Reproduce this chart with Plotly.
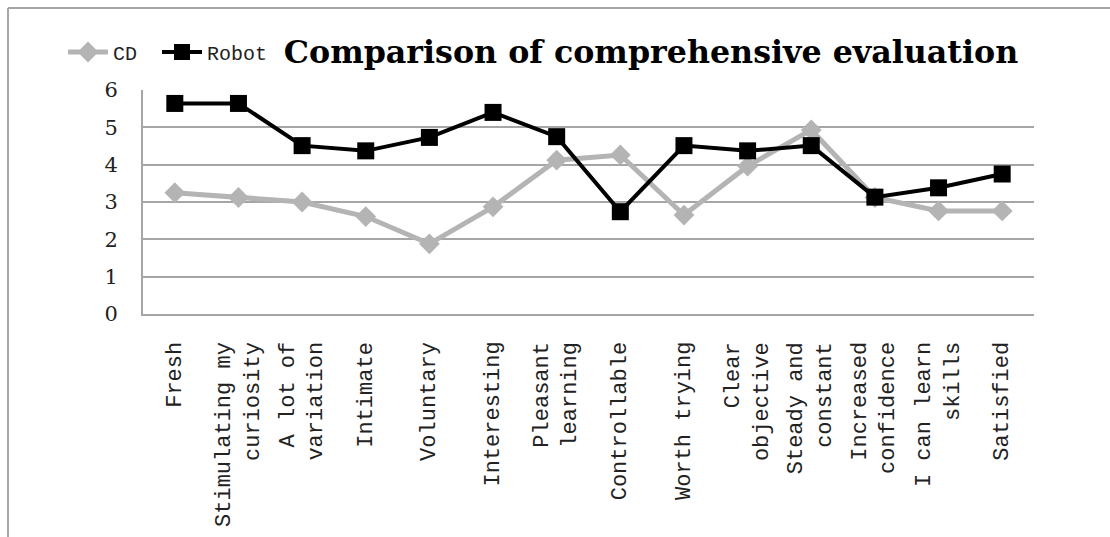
import plotly.graph_objects as go

categories = [
    "Fresh", "Stimulating my<br>curiosity", "A lot of<br>variation", "Intimate",
    "Voluntary", "Interesting", "Pleasant<br>learning", "Controllable",
    "Worth trying", "Clear<br>objective", "Steady and<br>constant",
    "Increased<br>confidence", "I can learn<br>skills", "Satisfied",
]
cd_values = [3.25, 3.12, 3.0, 2.61, 1.88, 2.87, 4.12, 4.26, 2.65, 3.96, 4.93, 3.12, 2.76, 2.76]
robot_values = [5.64, 5.64, 4.51, 4.37, 4.73, 5.40, 4.75, 2.74, 4.51, 4.37, 4.51, 3.13, 3.38, 3.75]
y_ticks = [0, 1, 2, 3, 4, 5, 6]

W, H = 1110, 537
L, R, T, B = 143, 76, 90, 223
pw, ph = W - L - R, H - T - B

fig = go.Figure()
fig.add_trace(go.Scatter(
    x=categories, y=cd_values, name="CD", mode="lines+markers",
    line=dict(color="#b4b4b4", width=5),
    marker=dict(symbol="diamond", size=16, color="#b4b4b4"),
    legend="legend",
))
fig.add_trace(go.Scatter(
    x=categories, y=robot_values, name="Robot", mode="lines+markers",
    line=dict(color="#000000", width=4),
    marker=dict(symbol="square", size=17, color="#000000"),
    legend="legend2",
))

gray = "#a6a6a6"
label_font = dict(family="Liberation Mono", size=22, color="#222")
annotations = [
    dict(x=c, y=-(340 - (H - B)) / ph, xref="x", yref="paper",
         text=c, showarrow=False, textangle=-90, align="right",
         xanchor="center", yanchor="top", font=label_font)
    for c in categories
]

legend_common = dict(
    orientation="h", xanchor="left",
    y=1 + (T - 52) / ph, yanchor="middle",
    font=dict(family="Liberation Mono", size=20, color="#222"),
    bgcolor="rgba(0,0,0,0)", itemwidth=40, tracegroupgap=0,
)

fig.update_layout(
    width=W, height=H,
    margin=dict(l=L, r=R, t=T, b=B),
    paper_bgcolor="white", plot_bgcolor="white",
    title=dict(
        text="Comparison of comprehensive evaluation",
        font=dict(family="DejaVu Serif", size=31.7, color="black", weight="bold"),
        x=651 / W, xanchor="center", xref="container",
        y=1 - 52 / H, yanchor="middle", yref="container",
    ),
    showlegend=True,
    legend=dict(x=(63 - L) / pw, **legend_common),
    legend2=dict(x=(157 - L) / pw, **legend_common),
    xaxis=dict(
        type="category", range=[-0.5, len(categories) - 0.5],
        showgrid=False, showline=True, linecolor=gray, linewidth=2,
        ticks="", showticklabels=False,
    ),
    yaxis=dict(
        range=[0, 6], tickvals=y_ticks, showgrid=True, gridcolor=gray, gridwidth=2,
        showline=True, linecolor=gray, linewidth=2, zeroline=False, ticks="",
        tickfont=dict(family="DejaVu Serif", size=21, color="#222"),
        ticklabelstandoff=19,
    ),
    annotations=annotations,
    shapes=[
        dict(type="line", xref="paper", yref="paper",
             x0=(8 - L) / pw, x1=(W + 5 - L) / pw,
             y0=1 + (T - 8) / ph, y1=1 + (T - 8) / ph,
             line=dict(color=gray, width=2)),
        dict(type="line", xref="paper", yref="paper",
             x0=(8 - L) / pw, x1=(8 - L) / pw,
             y0=1 + (T - 8) / ph, y1=-(B + 5) / ph,
             line=dict(color=gray, width=2)),
    ],
)

fig.write_html("out.html")
